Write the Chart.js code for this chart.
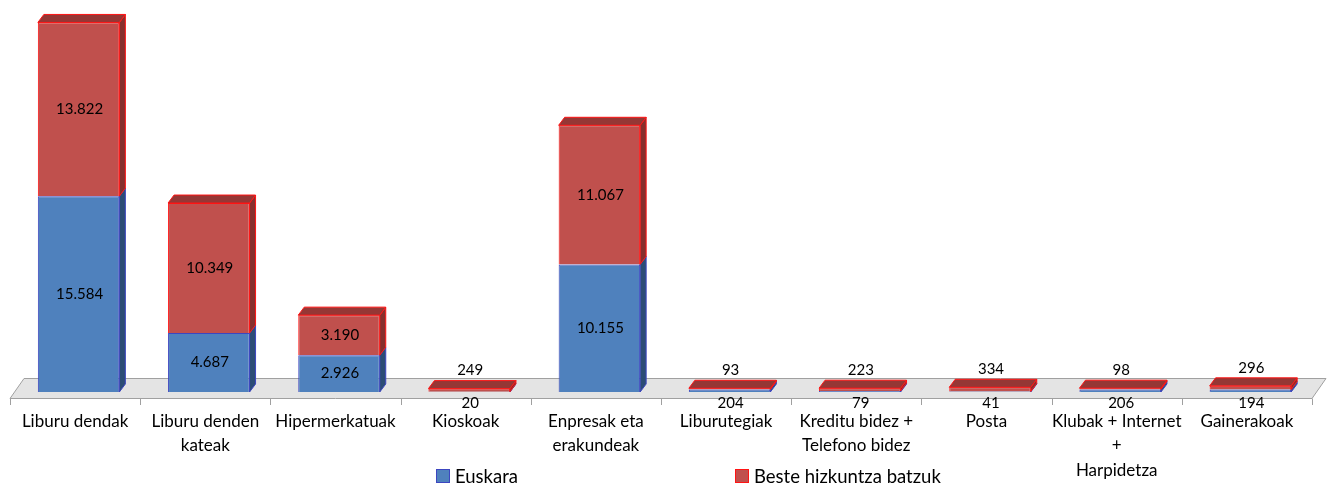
<!DOCTYPE html>
<html>
<head>
<meta charset="utf-8">
<script src="https://cdn.jsdelivr.net/npm/chart.js@4.4.0/dist/chart.umd.min.js"></script>
<style>body{margin:0;background:#fff}</style>
</head>
<body>
<canvas id="salmentak" width="1330" height="483"></canvas>
<script>
// DATUAK: liburu salmentak salmenta-bidearen arabera
var kategoriak = ['Liburu dendak', ['Liburu denden', 'kateak'], 'Hipermerkatuak', 'Kioskoak', ['Enpresak eta', 'erakundeak'],
  'Liburutegiak', ['Kreditu bidez +', 'Telefono bidez'], 'Posta', ['Klubak + Internet', '+', 'Harpidetza'], 'Gainerakoak'];
var euskara = [15584, 4687, 2926, 20, 10155, 204, 79, 41, 206, 194];
var besteak = [13822, 10349, 3190, 249, 11067, 93, 223, 334, 98, 296];
var legenda = ['Euskara', 'Beste hizkuntza batzuk'];

var letra = 'Lato, "Open Sans", sans-serif';
var sakonera = { x: 6, y: 8 }; // 3D efektua
var aurrekoa = ['#4f81bd', '#c0504d'];
var ertza = ['#3c46c0', '#ff1414'];
var alboa = ['#2c4d75', '#86302d'];
var goia = ['#3b6398', '#953735'];

function zenbakia(v) {
  return String(v).replace(/\B(?=(\d{3})+(?!\d))/g, '.');
}

var hiruD = {
  id: 'hiruD',
  beforeDatasetsDraw: function (chart) {
    var ctx = chart.ctx, a = chart.chartArea;
    var oina = a.bottom;
    ctx.save();
    // zorua
    ctx.beginPath();
    ctx.moveTo(a.left, oina + 6.5);
    ctx.lineTo(a.left + 14, oina - 13.5);
    ctx.lineTo(a.right + 14, oina - 13.5);
    ctx.lineTo(a.right, oina + 6.5);
    ctx.closePath();
    ctx.fillStyle = '#e4e4e4';
    ctx.fill();
    ctx.strokeStyle = '#a0a0a0';
    ctx.lineWidth = 1;
    ctx.stroke();
    // marka txikiak
    ctx.beginPath();
    var n = kategoriak.length;
    for (var i = 0; i <= n; i++) {
      var px = Math.round(a.left + i * (a.right - a.left) / n) + 0.5;
      ctx.moveTo(px, oina + 6.5);
      ctx.lineTo(px, oina + 13);
    }
    ctx.stroke();
    ctx.restore();
    // barrak pixka bat eskuinera, zoruaren erdian
    ctx.save();
    ctx.translate(3.5, 0);
  },
  afterDatasetsDraw: function (chart) {
    var ctx = chart.ctx;
    ctx.lineWidth = 1;
    chart.data.datasets.forEach(function (ds, d) {
      var meta = chart.getDatasetMeta(d);
      meta.data.forEach(function (el) {
        var p = el.getProps(['x', 'y', 'base', 'width'], true);
        var l = p.x - p.width / 2, r = p.x + p.width / 2;
        // alboa
        ctx.beginPath();
        ctx.moveTo(r, p.y);
        ctx.lineTo(r + sakonera.x, p.y - sakonera.y);
        ctx.lineTo(r + sakonera.x, p.base - sakonera.y);
        ctx.lineTo(r, p.base);
        ctx.closePath();
        ctx.fillStyle = alboa[d];
        ctx.fill();
        ctx.strokeStyle = ertza[d];
        ctx.stroke();
        // goiko aldea
        if (d === chart.data.datasets.length - 1) {
          ctx.beginPath();
          ctx.moveTo(l, p.y);
          ctx.lineTo(l + sakonera.x, p.y - sakonera.y);
          ctx.lineTo(r + sakonera.x, p.y - sakonera.y);
          ctx.lineTo(r, p.y);
          ctx.closePath();
          ctx.fillStyle = goia[d];
          ctx.fill();
          ctx.strokeStyle = ertza[d];
          ctx.stroke();
        }
      });
    });
    // balioak
    ctx.fillStyle = '#000';
    ctx.font = '15px ' + letra;
    ctx.textAlign = 'center';
    ctx.textBaseline = 'middle';
    chart.data.datasets.forEach(function (ds, d) {
      var meta = chart.getDatasetMeta(d);
      meta.data.forEach(function (el, i) {
        var p = el.getProps(['x', 'y', 'base'], true);
        var ty;
        if (p.base - p.y > 20) ty = (p.y + p.base) / 2;
        else if (d === 0) ty = p.base + 11;
        else ty = p.y - 18;
        ctx.fillText(zenbakia(ds.data[i]), p.x + 1, ty);
      });
    });
    ctx.restore();
  },
  afterDraw: function (chart) {
    var ctx = chart.ctx;
    var xs = [436, 735];
    ctx.save();
    ctx.font = '18.5px ' + letra;
    ctx.textBaseline = 'middle';
    ctx.textAlign = 'left';
    legenda.forEach(function (t, d) {
      ctx.fillStyle = aurrekoa[d];
      ctx.fillRect(xs[d] + 0.5, 469.5, 13, 13);
      ctx.strokeStyle = ertza[d];
      ctx.strokeRect(xs[d] + 0.5, 469.5, 13, 13);
      ctx.fillStyle = '#000';
      ctx.fillText(t, xs[d] + 19, 477);
    });
    ctx.restore();
  }
};

new Chart(document.getElementById('salmentak').getContext('2d'), {
  type: 'bar',
  data: {
    labels: kategoriak,
    datasets: [{
      label: legenda[0],
      data: euskara,
      backgroundColor: aurrekoa[0],
      borderColor: ertza[0],
      borderWidth: 1
    }, {
      label: legenda[1],
      data: besteak,
      backgroundColor: aurrekoa[1],
      borderColor: ertza[1],
      borderWidth: 1
    }]
  },
  options: {
    responsive: false,
    animation: false,
    layout: { padding: { left: 10, right: 18, top: 20, bottom: 0 } },
    datasets: { bar: { barPercentage: 0.626, categoryPercentage: 1 } },
    scales: {
      x: {
        stacked: true,
        grid: { display: false, drawTicks: false },
        border: { display: false },
        ticks: { color: '#000', font: { family: letra, size: 17, lineHeight: 1.44 }, padding: 17, maxRotation: 0, autoSkip: false },
        afterFit: function (s) { s.height = 91; }
      },
      y: { stacked: true, display: false, min: 0, max: 29600 }
    },
    plugins: {
      legend: { display: false },
      tooltip: { enabled: false }
    }
  },
  plugins: [hiruD]
});
</script>
</body>
</html>
